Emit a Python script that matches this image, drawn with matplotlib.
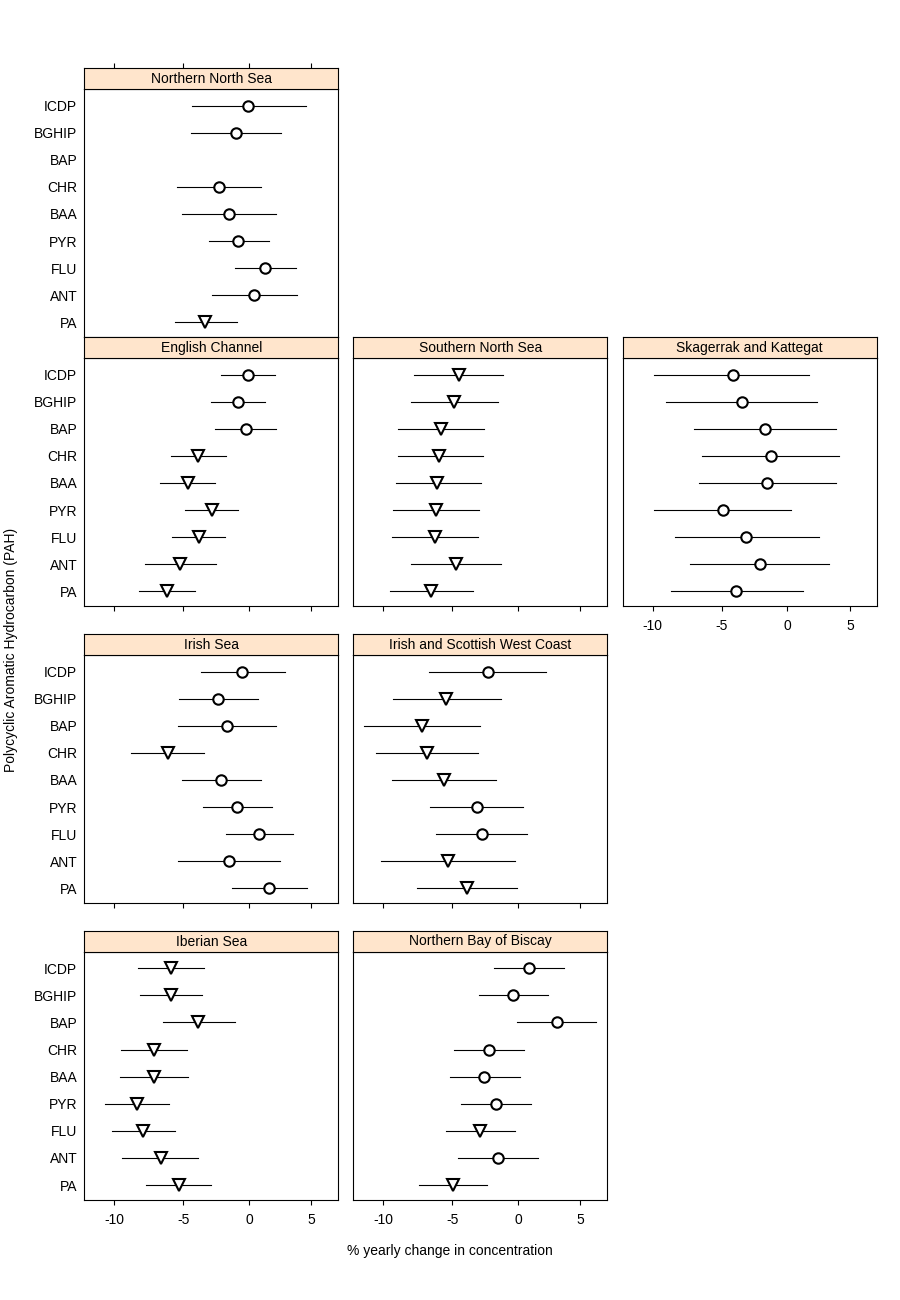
import numpy as np
import matplotlib.pyplot as plt

plt.rcParams['font.family'] = ['Liberation Sans', 'DejaVu Sans']
plt.rcParams['axes.unicode_minus'] = False
plt.rcParams['font.size'] = 10

compounds = ["PA", "ANT", "FLU", "PYR", "BAA", "CHR", "BAP", "BGHIP", "ICDP"]
xticks = [-10, -5, 0, 5]

# estimate, lower and upper limit (% per year), order as in compounds
# sig: 1 = significant downward trend (triangle), 0 = not (circle)
nns_est = [-3.36, 0.39, 1.26, -0.86, -1.55, -2.32, np.nan, -1.03, -0.10]
nns_lo = [-5.63, -2.86, -1.07, -3.08, -5.10, -5.48, np.nan, -4.43, -4.34]
nns_hi = [-0.96, 3.80, 3.72, 1.55, 2.13, 0.92, np.nan, 2.51, 4.53]
nns_sig = [1, 0, 0, 0, 0, 0, 0, 0, 0]

ec_est = [-6.24, -5.23, -3.86, -2.88, -4.68, -3.89, -0.26, -0.83, -0.05]
ec_lo = [-8.22, -7.79, -5.85, -4.86, -6.70, -5.92, -2.60, -2.93, -2.17]
ec_hi = [-4.16, -2.55, -1.86, -0.88, -2.65, -1.81, 2.13, 1.23, 2.03]
ec_sig = [1, 1, 1, 1, 1, 1, 0, 0, 0]

sns_est = [-6.59, -4.77, -6.30, -6.25, -6.11, -5.96, -5.86, -4.90, -4.52]
sns_lo = [-9.56, -8.06, -9.42, -9.35, -9.13, -8.97, -8.97, -8.06, -7.85]
sns_hi = [-3.45, -1.30, -3.07, -2.99, -2.84, -2.69, -2.61, -1.53, -1.15]
sns_sig = [1, 1, 1, 1, 1, 1, 1, 1, 1]

sk_est = [-3.95, -2.14, -3.19, -4.93, -1.56, -1.30, -1.71, -3.51, -4.19]
sk_lo = [-8.70, -7.33, -8.39, -9.91, -6.68, -6.43, -7.02, -9.06, -9.91]
sk_hi = [1.20, 3.28, 2.48, 0.26, 3.85, 4.10, 3.85, 2.31, 1.73]
sk_sig = [0, 0, 0, 0, 0, 0, 0, 0, 0]

is_est = [1.60, -1.55, 0.81, -0.93, -2.17, -6.17, -1.68, -2.37, -0.52]
is_lo = [-1.32, -5.41, -1.78, -3.53, -5.10, -8.82, -5.41, -5.33, -3.69]
is_hi = [4.61, 2.43, 3.48, 1.81, 0.92, -3.48, 2.13, 0.68, 2.83]
is_sig = [0, 0, 0, 0, 0, 1, 0, 0, 0]

isw_est = [-3.93, -5.30, -2.79, -3.17, -5.61, -6.89, -7.25, -5.49, -2.30]
isw_lo = [-7.63, -10.13, -6.25, -6.69, -9.42, -10.55, -11.38, -9.35, -6.76]
isw_hi = [-0.06, -0.22, 0.72, 0.41, -1.69, -3.07, -2.91, -1.36, 2.23]
isw_sig = [1, 1, 0, 0, 1, 1, 1, 1, 0]

ib_est = [-5.35, -6.67, -7.93, -8.36, -7.16, -7.14, -3.89, -5.90, -5.94]
ib_lo = [-7.74, -9.43, -10.16, -10.66, -9.62, -9.53, -6.53, -8.17, -8.31]
ib_hi = [-2.95, -3.94, -5.65, -6.09, -4.66, -4.76, -1.09, -3.59, -3.48]
ib_sig = [1, 1, 1, 1, 1, 1, 1, 1, 1]

nbb_est = [-4.97, -1.53, -2.94, -1.69, -2.66, -2.23, 3.08, -0.41, 0.85]
nbb_lo = [-7.49, -4.62, -5.51, -4.39, -5.22, -4.92, -0.12, -3.04, -1.90]
nbb_hi = [-2.38, 1.59, -0.22, 0.98, 0.12, 0.49, 6.31, 2.39, 3.68]
nbb_sig = [1, 0, 1, 0, 0, 0, 0, 0, 0]

panels = [
    ("Northern North Sea", 0, 0, nns_est, nns_lo, nns_hi, nns_sig),
    ("English Channel", 1, 0, ec_est, ec_lo, ec_hi, ec_sig),
    ("Southern North Sea", 1, 1, sns_est, sns_lo, sns_hi, sns_sig),
    ("Skagerrak and Kattegat", 1, 2, sk_est, sk_lo, sk_hi, sk_sig),
    ("Irish Sea", 2, 0, is_est, is_lo, is_hi, is_sig),
    ("Irish and Scottish West Coast", 2, 1, isw_est, isw_lo, isw_hi, isw_sig),
    ("Iberian Sea", 3, 0, ib_est, ib_lo, ib_hi, ib_sig),
    ("Northern Bay of Biscay", 3, 1, nbb_est, nbb_lo, nbb_hi, nbb_sig),
]

# panels that carry tick labels under them
labelled = {(1, 2), (3, 0), (3, 1)}

W, H = 900, 1300
col_left = [84.3, 353.3, 622.7]
row_top = [68.3, 337.3, 634.3, 931.0]
pw, sh, ph = 254, 21, 248

strip_col = "#FFE5CC"


def fwd(v):
    return np.log1p(np.asarray(v) / 100.0)


def inv(u):
    return np.expm1(np.asarray(u)) * 100.0


fig = plt.figure(figsize=(9, 13), dpi=100)
ypos = np.arange(1, len(compounds) + 1)

for name, r, c, est, lo, hi, sig in panels:
    x0 = col_left[c] / W
    top = row_top[r]
    ax = fig.add_axes([x0, 1 - (top + sh + ph) / H, pw / W, ph / H])
    st = fig.add_axes([x0, 1 - (top + sh) / H, pw / W, sh / H], sharex=ax)

    ax.set_xscale("function", functions=(fwd, inv))
    ax.set_xlim(-12.09, 7.23)
    ax.set_ylim(0.45, 9.6)

    est = np.array(est)
    lo = np.array(lo)
    hi = np.array(hi)
    for y, e, l, h, s in zip(ypos, est, lo, hi, sig):
        if np.isnan(e):
            continue
        ax.plot([l, h], [y, y], color="black", lw=0.8, zorder=2)
        ax.plot(e, y, marker="v" if s else "o", ms=8.5 if s else 7.5,
                mfc="white", mec="black", mew=1.5, ls="none", zorder=3)

    ax.set_xticks(xticks)
    ax.xaxis.set_minor_locator(plt.NullLocator())
    if (r, c) in labelled:
        ax.set_xticklabels([str(t) for t in xticks])
    else:
        ax.set_xticklabels([])
    ax.tick_params(axis="x", direction="out", length=3.5, width=0.8, pad=6)

    ax.set_yticks(ypos)
    if c == 0:
        ax.set_yticklabels(compounds)
    else:
        ax.set_yticklabels([])
    ax.tick_params(axis="y", length=0, pad=5)

    for sp in ax.spines.values():
        sp.set_linewidth(0.8)

    st.set_facecolor(strip_col)
    st.set_yticks([])
    for sp in st.spines.values():
        sp.set_linewidth(0.8)
    st.text(0.5, 0.5, name, transform=st.transAxes, ha="center", va="center",
            fontsize=10)
    if r == 0:
        st.xaxis.set_ticks_position("top")
        st.tick_params(axis="x", which="both", direction="out", length=3.5,
                       width=0.8, labeltop=False, labelbottom=False, bottom=False)
    else:
        st.tick_params(axis="x", which="both", length=0, labelbottom=False)

fig.text(11 / W, 0.5, "Polycyclic Aromatic Hydrocarbon (PAH)", rotation=90,
         ha="center", va="center", fontsize=10)
fig.text(0.5, 1 - 1251 / H, "% yearly change in concentration", ha="center",
         va="center", fontsize=10)

fig.savefig("out.png", dpi=100, facecolor="white")
